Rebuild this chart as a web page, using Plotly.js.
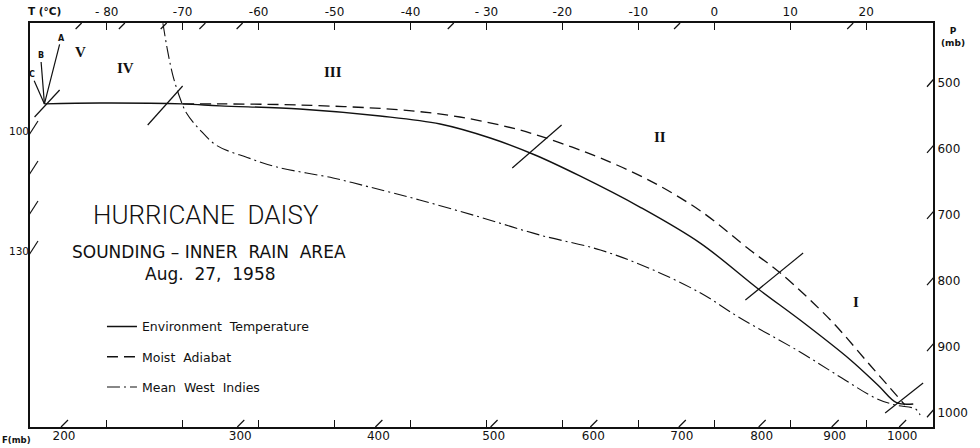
<!DOCTYPE html>
<html>
<head>
<meta charset="utf-8">
<script src="https://cdn.plot.ly/plotly-3.0.1.min.js"></script>
<style>html,body{margin:0;padding:0;background:#fff;}#chart{width:980px;height:448px;}</style>
</head>
<body>
<div id="chart"></div>
<script>
// ---------- data ----------
const tempTicks = [-80, -70, -60, -50, -40, -30, -20, -10, 0, 10, 20];
const tempTickText = ['- 80', '-70', '-60', '-50', '-40', '- 30', '-20', '-10', '0', '10', '20'];
const pressTicks = [500, 600, 700, 800, 900, 1000];
const fTicks = [200, 300, 400, 500, 600, 700, 800, 900, 1000];
const leftTicks = [100, 110, 120, 130];
const leftTickText = ['100', '', '', '130'];
const topSlantT = [-83.7, -78.0, -72.5, -67.4, -62.5, -34.7, -4.9, 17.9];

const envT = [-88.2, -80.9, -70.0, -65.1, -54.6, -44.0, -36.1, -29.5, -23.6, -17.7, -9.8, -1.8, 5.8, 11.3, 17.9, 21.6, 24.0, 26.2];
const envP = [532, 530.6, 532, 535, 539.7, 550.3, 562.4, 583.6, 609.3, 641, 688, 743, 812, 859, 919, 958, 984, 986];

const moistT = [-70.0, -65.1, -54.6, -41.4, -33.5, -25.6, -20.3, -15.0, -8.5, -1.8, 4.7, 8.7, 15.3, 20.5, 25.1];
const moistP = [532, 532, 533.7, 541, 551.8, 571.5, 591, 613.8, 648, 694, 753, 787.8, 859, 927, 987.5];

const wiT = [-72.6, -72.0, -71.3, -70.4, -69.5, -67.7, -65.5, -61.5, -57.6, -50.2, -45.4, -38.8, -30.9, -23.0, -15.0, -8.5, -1.8, 3.4, 11.3, 16.8, 21.2, 23.8, 26.5, 27.1];
const wiP = [410, 450.5, 488.3, 521.6, 545.8, 571.5, 595, 613, 627.5, 644.1, 657.7, 677.4, 703.1, 730.3, 753, 781, 818.1, 855.9, 907.3, 946.7, 976.9, 987.5, 993.6, 1002.6];

// level boundary marks (line segments across the curves)
const bndT0 = [-89.5, -74.6, -26.6, 4.1, 22.5];
const bndP0 = [551.8, 563.9, 629, 828.7, 999.6];
const bndT1 = [-86.2, -70.0, -20.1, 11.7, 27.5];
const bndP1 = [511, 504.9, 564, 757.6, 954.2];

// A, B, C rays from the base point
const rayLabels = ['A', 'B', 'C'];
const rayT = [-86.0, -88.7, -89.9];
const rayP = [433, 459.5, 488];

// zone numerals
const zoneLabels = ['V', 'IV', 'III', 'II', 'I'];
const zoneT = [-83.4, -77.5, -50.2, -7.1, 18.6];
const zoneP = [453.5, 477.7, 483.7, 582, 831.7];

const seriesNames = ['Environment  Temperature', 'Moist  Adiabat', 'Mean  West  Indies'];

// ---------- styling ----------
const INK = '#111111';
const FONT = 'DejaVu Sans, Liberation Sans, sans-serif';
const KAPPA = 0.286;

const traces = [
  {x: envT, y: envP, name: seriesNames[0], mode: 'lines', line: {color: INK, width: 1.4, shape: 'spline', smoothing: 1}, legendgroup: 'a', hoverinfo: 'skip'},
  {x: moistT, y: moistP, name: seriesNames[1], mode: 'lines', line: {color: INK, width: 1.3, dash: '11px,6px', shape: 'spline', smoothing: 1}, legendgroup: 'b', hoverinfo: 'skip'},
  {x: wiT, y: wiP, name: seriesNames[2], mode: 'lines', line: {color: INK, width: 1.1, dash: '13px,4px,2px,4px', shape: 'spline', smoothing: 1}, legendgroup: 'c', hoverinfo: 'skip'},
  {x: [Math.pow(fTicks[0], KAPPA)], y: [leftTicks[0]], xaxis: 'x2', yaxis: 'y2', mode: 'markers', marker: {opacity: 0}, showlegend: false, hoverinfo: 'skip'}
];

const shapes = [];
const slant = (o) => Object.assign({type: 'line', xsizemode: 'pixel', ysizemode: 'pixel', line: {color: INK, width: 1.2}}, o);
pressTicks.forEach(p => shapes.push(slant({xref: 'paper', yref: 'y', xanchor: 1, yanchor: p, x0: -6, y0: -4, x1: 1, y1: 4})));
leftTicks.forEach(v => shapes.push(slant({xref: 'paper', yref: 'y2', xanchor: 0, yanchor: v, x0: -1, y0: -4, x1: 8, y1: 10})));
fTicks.forEach(f => shapes.push(slant({xref: 'x2', yref: 'paper', xanchor: Math.pow(f, KAPPA), yanchor: 0, x0: -3, y0: 0, x1: 4, y1: 7})));
topSlantT.forEach(t => shapes.push(slant({xref: 'x', yref: 'paper', xanchor: t, yanchor: 1, x0: -3, y0: -6, x1: 3, y1: 0})));
bndT0.forEach((t, i) => shapes.push({type: 'line', xref: 'x', yref: 'y', x0: t, y0: bndP0[i], x1: bndT1[i], y1: bndP1[i], line: {color: INK, width: 1.2}}));

const annotations = [];
rayLabels.forEach((lab, i) => annotations.push({
  x: envT[0], y: envP[0], xref: 'x', yref: 'y', ax: rayT[i], ay: rayP[i], axref: 'x', ayref: 'y',
  text: '<b>' + lab + '</b>', showarrow: true, arrowhead: 0, arrowwidth: 1.2, arrowcolor: INK,
  font: {family: FONT, size: 8, color: INK}
}));
zoneLabels.forEach((lab, i) => annotations.push({
  x: zoneT[i], y: zoneP[i], xref: 'x', yref: 'y', xanchor: 'center', text: '<b>' + lab + '</b>', showarrow: false,
  font: {family: 'Liberation Serif, DejaVu Serif, serif', size: 15, color: INK}
}));
annotations.push(
  {xref: 'paper', yref: 'paper', x: 0, y: 1, xanchor: 'left', yanchor: 'bottom', xshift: -4, yshift: 4, text: '<b>T (°C)</b>', showarrow: false, font: {family: FONT, size: 10.5, color: INK}},
  {xref: 'paper', yref: 'paper', x: 1, y: 1, xanchor: 'left', yanchor: 'top', xshift: 6, yshift: -1, text: '<b>P<br>(mb)</b>', showarrow: false, font: {family: FONT, size: 9, color: INK}},
  {xref: 'paper', yref: 'paper', x: 0, y: 0, xanchor: 'center', yanchor: 'top', xshift: -14, yshift: -6, text: '<b>F(mb)</b>', showarrow: false, font: {family: FONT, size: 8.5, color: INK}},
  {xref: 'paper', yref: 'paper', x: 0.195, y: 0.525, xanchor: 'center', yanchor: 'middle', text: 'HURRICANE  DAISY', showarrow: false, font: {family: 'Roboto, Lato, sans-serif', size: 26, weight: 300, color: INK}},
  {xref: 'paper', yref: 'paper', x: 0.198, y: 0.433, xanchor: 'center', yanchor: 'middle', text: 'SOUNDING – INNER  RAIN  AREA', showarrow: false, font: {family: FONT, size: 17, color: INK}},
  {xref: 'paper', yref: 'paper', x: 0.200, y: 0.379, xanchor: 'center', yanchor: 'middle', text: 'Aug.  27,  1958', showarrow: false, font: {family: FONT, size: 17, color: INK}}
);

const tickFont = {family: FONT, size: 12, color: INK};
const layout = {
  width: 980, height: 448,
  margin: {l: 30, r: 47, t: 23, b: 21},
  paper_bgcolor: '#fff', plot_bgcolor: '#fff',
  showlegend: true,
  legend: {x: 0.0797, y: 0.285, xanchor: 'left', yanchor: 'top', bgcolor: 'rgba(0,0,0,0)', font: {family: FONT, size: 12.5, color: INK}, tracegroupgap: 11, itemwidth: 30},
  xaxis: {range: [-90.1, 28.8], side: 'top', tickmode: 'array', tickvals: tempTicks, ticktext: tempTickText, ticks: 'inside', ticklen: 7, tickwidth: 1.2, tickcolor: INK, showline: true, linewidth: 2, linecolor: INK, mirror: 'allticks', showgrid: false, zeroline: false, tickfont: tickFont, fixedrange: true},
  yaxis: {range: [1020.8, 409.6], side: 'right', tickmode: 'array', tickvals: pressTicks, ticks: '', showline: true, linewidth: 2, linecolor: INK, mirror: true, showgrid: false, zeroline: false, tickfont: tickFont, fixedrange: true},
  xaxis2: {overlaying: 'x', side: 'bottom', anchor: 'y', range: [4.443, 7.309], tickmode: 'array', tickvals: fTicks.map(f => Math.pow(f, KAPPA)), ticktext: fTicks.map(String), ticks: '', showline: false, showgrid: false, zeroline: false, tickfont: tickFont, fixedrange: true},
  yaxis2: {overlaying: 'y', side: 'left', anchor: 'x', range: [174, 73], tickmode: 'array', tickvals: leftTicks, ticktext: leftTickText, ticks: '', showline: false, showgrid: false, zeroline: false, tickfont: {family: FONT, size: 10.5, color: INK}, fixedrange: true},
  shapes: shapes,
  annotations: annotations
};

Plotly.newPlot('chart', traces, layout, {displayModeBar: false, staticPlot: true});
</script>
</body>
</html>
